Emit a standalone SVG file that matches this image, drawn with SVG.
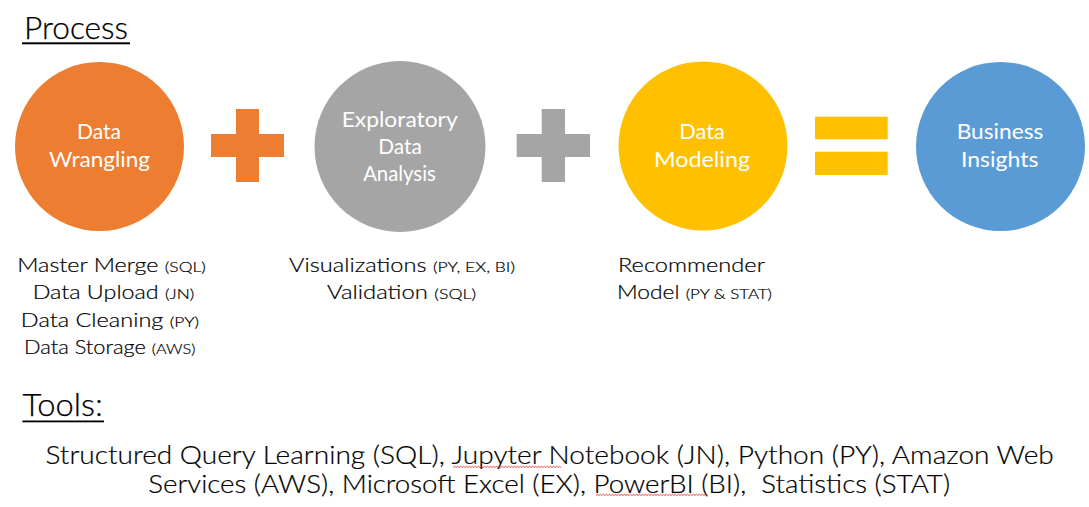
<svg xmlns="http://www.w3.org/2000/svg" width="1089" height="507" viewBox="0 0 1089 507">
  <style>
    .title { font-family: Lato, "Liberation Sans", sans-serif; font-weight: 300; font-size: 31px; fill: #000; stroke: #000; stroke-width: 0.25; }
    .label { font-family: Lato, "Liberation Sans", sans-serif; font-weight: 400; font-size: 21px; fill: #fff; text-anchor: middle; }
    .body { font-family: Lato, "Liberation Sans", sans-serif; font-weight: 300; font-size: 19.5px; fill: #000; stroke: #000; stroke-width: 0.2; text-anchor: middle; }
    .small { font-size: 14.5px; }
    .tools { font-family: Lato, "Liberation Sans", sans-serif; font-weight: 300; font-size: 25px; fill: #000; stroke: #000; stroke-width: 0.2; text-anchor: middle; }
    .uline { fill: #000; }
    .squiggle { fill: none; stroke: #e02020; stroke-width: 0.8; }
  </style>

  <g id="title-process">
    <text class="title" x="24" y="39" textLength="104" lengthAdjust="spacingAndGlyphs">Process</text>
    <rect class="uline" x="22" y="42.3" width="108" height="2"/>
  </g>

  <g id="node-wrangling">
    <circle cx="99.5" cy="146.5" r="84.5" fill="#ED7D31"/>
    <text class="label" x="99" y="139.3" textLength="44" lengthAdjust="spacingAndGlyphs">Data</text>
    <text class="label" x="99.5" y="167.3" textLength="101" lengthAdjust="spacingAndGlyphs">Wrangling</text>
  </g>

  <g id="node-eda">
    <circle cx="400" cy="146.5" r="85.5" fill="#A5A5A5"/>
    <text class="label" x="399.7" y="127" textLength="116" lengthAdjust="spacingAndGlyphs">Exploratory</text>
    <text class="label" x="400" y="154" textLength="43.7" lengthAdjust="spacingAndGlyphs">Data</text>
    <text class="label" x="399.5" y="181" textLength="72.7" lengthAdjust="spacingAndGlyphs">Analysis</text>
  </g>

  <g id="node-modeling">
    <circle cx="703" cy="146" r="84.5" fill="#FFC000"/>
    <text class="label" x="702" y="138.8" textLength="45.7" lengthAdjust="spacingAndGlyphs">Data</text>
    <text class="label" x="702" y="166.7" textLength="96" lengthAdjust="spacingAndGlyphs">Modeling</text>
  </g>

  <g id="node-insights">
    <circle cx="1000.5" cy="146.5" r="84.5" fill="#5B9BD5"/>
    <text class="label" x="1000" y="139.3" textLength="86.7" lengthAdjust="spacingAndGlyphs">Business</text>
    <text class="label" x="999.7" y="166.7" textLength="77.3" lengthAdjust="spacingAndGlyphs">Insights</text>
  </g>

  <g id="connectors">
    <path id="plus-1" d="M236 109H259V134H284V157H259V182H236V157H211V134H236Z" fill="#ED7D31"/>
    <path id="plus-2" d="M541.7 109H565V134H590V157H565V182H541.7V157H516.7V134H541.7Z" fill="#A5A5A5"/>
    <g id="equals" fill="#FFC000">
      <rect x="815" y="116.7" width="72.7" height="22.6"/>
      <rect x="815" y="151.7" width="72.7" height="23.3"/>
    </g>
  </g>

  <g id="notes-wrangling">
    <text class="body" x="111.5" y="272" textLength="188.4" lengthAdjust="spacingAndGlyphs">Master Merge <tspan class="small">(SQL)</tspan></text>
    <text class="body" x="113.5" y="299.4" textLength="161.6" lengthAdjust="spacingAndGlyphs">Data Upload <tspan class="small">(JN)</tspan></text>
    <text class="body" x="110" y="326.8" textLength="178.3" lengthAdjust="spacingAndGlyphs">Data Cleaning <tspan class="small">(PY)</tspan></text>
    <text class="body" x="109.7" y="354.2" textLength="171.3" lengthAdjust="spacingAndGlyphs">Data Storage <tspan class="small">(AWS)</tspan></text>
  </g>

  <g id="notes-eda">
    <text class="body" x="402" y="272" textLength="226" lengthAdjust="spacingAndGlyphs">Visualizations <tspan class="small">(PY, EX, BI)</tspan></text>
    <text class="body" x="401.5" y="299.4" textLength="149" lengthAdjust="spacingAndGlyphs">Validation <tspan class="small">(SQL)</tspan></text>
  </g>

  <g id="notes-modeling">
    <text class="body" x="691.5" y="272" textLength="147" lengthAdjust="spacingAndGlyphs">Recommender</text>
    <text class="body" x="694.5" y="299.4" textLength="155" lengthAdjust="spacingAndGlyphs">Model <tspan class="small">(PY &amp; STAT)</tspan></text>
  </g>

  <g id="title-tools">
    <text class="title" x="22.4" y="416" textLength="80.4" lengthAdjust="spacingAndGlyphs">Tools:</text>
    <rect class="uline" x="22.4" y="420.5" width="81.6" height="1.8"/>
  </g>

  <g id="tools-list">
    <text class="tools" x="549.6" y="463.5" textLength="1008.3" lengthAdjust="spacingAndGlyphs">Structured Query Learning (SQL), Jupyter Notebook (JN), Python (PY), Amazon Web</text>
    <text class="tools" x="549.2" y="492.5" textLength="801.7" lengthAdjust="spacingAndGlyphs">Services (AWS), Microsoft Excel (EX), PowerBI (BI), &#160;Statistics (STAT)</text>
    <path class="squiggle" d="M453 467.5l1.5-1.2 1.5 1.2 1.5-1.2 1.5 1.2 1.5-1.2 1.5 1.2 1.5-1.2 1.5 1.2 1.5-1.2 1.5 1.2 1.5-1.2 1.5 1.2 1.5-1.2 1.5 1.2 1.5-1.2 1.5 1.2 1.5-1.2 1.5 1.2 1.5-1.2 1.5 1.2 1.5-1.2 1.5 1.2 1.5-1.2 1.5 1.2 1.5-1.2 1.5 1.2 1.5-1.2 1.5 1.2 1.5-1.2 1.5 1.2 1.5-1.2 1.5 1.2 1.5-1.2 1.5 1.2 1.5-1.2 1.5 1.2 1.5-1.2 1.5 1.2 1.5-1.2 1.5 1.2 1.5-1.2 1.5 1.2 1.5-1.2 1.5 1.2 1.5-1.2 1.5 1.2 1.5-1.2 1.5 1.2 1.5-1.2 1.5 1.2 1.5-1.2 1.5 1.2 1.5-1.2 1.5 1.2 1.5-1.2 1.5 1.2 1.5-1.2 1.5 1.2 1.5-1.2 1.5 1.2 1.5-1.2 1.5 1.2 1.5-1.2 1.5 1.2 1.5-1.2 1.5 1.2 1.5-1.2 1.5 1.2 1.5-1.2 1.5 1.2 1.5-1.2 1.5 1.2"/>
    <path class="squiggle" d="M596 495.5l1.5-1.2 1.5 1.2 1.5-1.2 1.5 1.2 1.5-1.2 1.5 1.2 1.5-1.2 1.5 1.2 1.5-1.2 1.5 1.2 1.5-1.2 1.5 1.2 1.5-1.2 1.5 1.2 1.5-1.2 1.5 1.2 1.5-1.2 1.5 1.2 1.5-1.2 1.5 1.2 1.5-1.2 1.5 1.2 1.5-1.2 1.5 1.2 1.5-1.2 1.5 1.2 1.5-1.2 1.5 1.2 1.5-1.2 1.5 1.2 1.5-1.2 1.5 1.2 1.5-1.2 1.5 1.2 1.5-1.2 1.5 1.2 1.5-1.2 1.5 1.2 1.5-1.2 1.5 1.2 1.5-1.2 1.5 1.2 1.5-1.2 1.5 1.2 1.5-1.2 1.5 1.2 1.5-1.2 1.5 1.2 1.5-1.2 1.5 1.2 1.5-1.2 1.5 1.2 1.5-1.2 1.5 1.2 1.5-1.2 1.5 1.2 1.5-1.2 1.5 1.2 1.5-1.2 1.5 1.2 1.5-1.2 1.5 1.2 1.5-1.2 1.5 1.2 1.5-1.2 1.5 1.2 1.5-1.2 1.5 1.2 1.5-1.2 1.5 1.2 1.5-1.2 1.5 1.2 1.5-1.2 1.5 1.2"/>
  </g>
</svg>
